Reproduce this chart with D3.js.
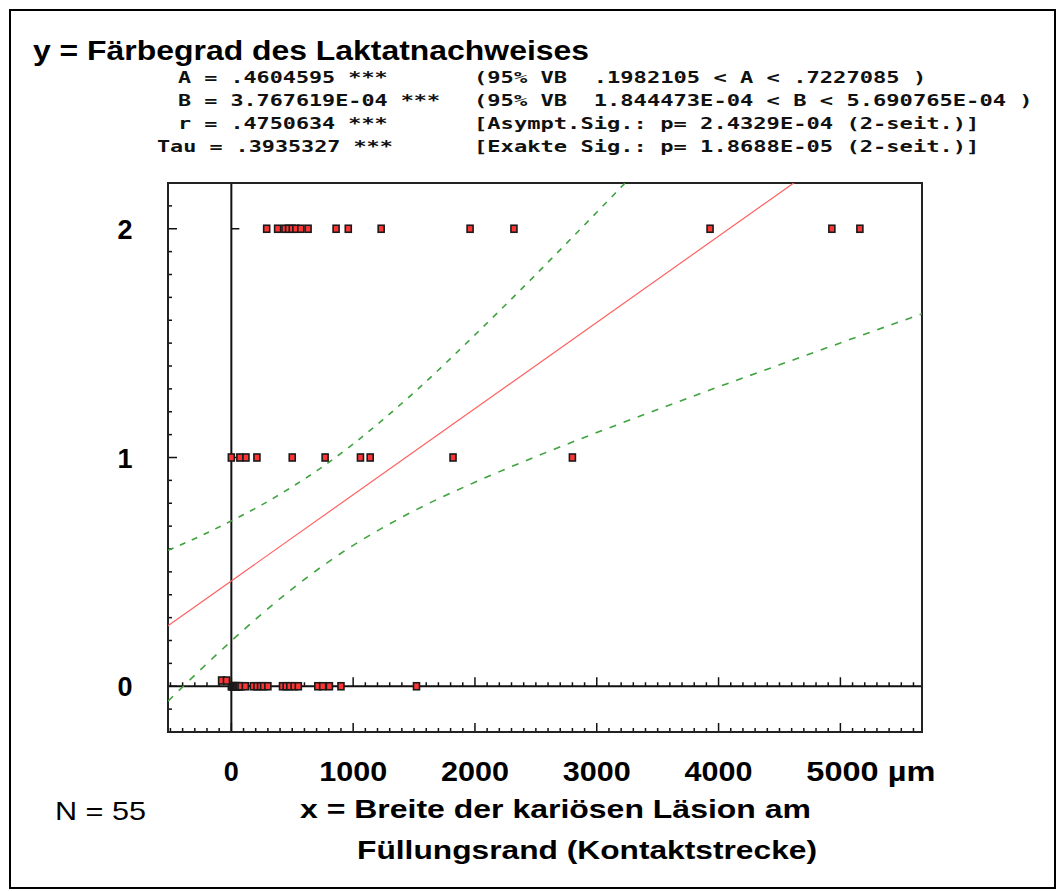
<!DOCTYPE html>
<html><head><meta charset="utf-8">
<script src="https://cdn.jsdelivr.net/npm/d3@7"></script>
<style>html,body{margin:0;padding:0;background:#fff}svg{display:block}</style>
</head><body>
<svg id="c" width="1057" height="891"></svg>
<script>
// ---------- data ----------
const titleText = "y = Färbegrad des Laktatnachweises";
const statsLeft = ["A = .4604595 ***", "B = 3.767619E-04 ***", "r = .4750634 ***", "Tau = .3935327 ***"];
const statsRight = ["(95% VB  .1982105 < A < .7227085 )", "(95% VB  1.844473E-04 < B < 5.690765E-04 )",
                    "[Asympt.Sig.: p= 2.4329E-04 (2-seit.)]", "[Exakte Sig.: p= 1.8688E-05 (2-seit.)]"];
const xTickValues = [0, 1000, 2000, 3000, 4000, 5000];
const xTickLabels = ["0", "1000", "2000", "3000", "4000", "5000 µm"];
const yTickValues = [0, 1, 2];
const yTickLabels = ["0", "1", "2"];
const xLabelLines = ["x = Breite der kariösen Läsion am", "Füllungsrand (Kontaktstrecke)"];
const nLabel = "N = 55";

// observed points by category level
const xAtY2 = [290, 380, 440, 470, 500, 530, 570, 630, 860, 960, 1230, 1960, 2320, 3930, 4930, 5160];
const xAtY1 = [0, 70, 120, 210, 500, 770, 1060, 1140, 1820, 2800];
const xAtY0 = [0, 5, 15, 20, 25, 35, 40, 45, 55, 65, 80, 115, 180, 210, 240, 265, 300,
               420, 450, 480, 515, 550, 710, 750, 805, 900, 1520];
const xNearY0 = [-80, -40];
const yNearY0 = [0.025, 0.025];

// regression coefficients
const coefA = 0.4604595;
const coefB = 3.767619e-4;

// 95% confidence band
const bandUpperX = [-520, -250, 0, 250, 500, 750, 1000, 1250, 1500, 2000, 2500, 3000, 3300];
const bandUpperY = [0.594, 0.658, 0.723, 0.793, 0.872, 0.960, 1.059, 1.168, 1.284, 1.536, 1.800, 2.072, 2.237];
const bandLowerX = [-520, -250, 0, 250, 500, 750, 1000, 1250, 1500, 2000, 2500, 3000, 3500, 4000, 4500, 5000, 5680];
const bandLowerY = [-0.065, 0.074, 0.198, 0.316, 0.426, 0.526, 0.616, 0.695, 0.767, 0.892, 1.004, 1.109, 1.210, 1.309, 1.405, 1.501, 1.630];

// ---------- layout ----------
const svg = d3.select("#c");
const P = {left: 168, right: 922, top: 183, bottom: 732};
const xDomain = [-520, 5670];
const yDomain = [-0.2, 2.2];
const x = d3.scaleLinear().domain(xDomain).range([P.left, P.right]);
const y = d3.scaleLinear().domain(yDomain).range([P.bottom, P.top]);

svg.append("rect").attr("width", 1057).attr("height", 891).attr("fill", "#fff");
// slide frame
svg.append("rect").attr("x", 10).attr("y", 10).attr("width", 1045).attr("height", 878)
   .attr("fill", "none").attr("stroke", "#000").attr("stroke-width", 2);

// title
svg.append("text").attr("x", 33).attr("y", 60).text(titleText)
   .attr("font-family", "Liberation Sans, Arial, sans-serif").attr("font-weight", "bold")
   .attr("font-size", 27).attr("textLength", 556).attr("lengthAdjust", "spacingAndGlyphs");

// stats block
const mono = "DejaVu Sans Mono, Liberation Mono, monospace";
const pitch = 13.3;
const leftX = [178, 178, 178, 157];
statsLeft.forEach((s, i) => {
  svg.append("text").attr("x", leftX[i]).attr("y", 83 + i * 23).text(s)
     .attr("font-family", mono).attr("font-weight", "bold").attr("font-size", 15.5)
     .attr("textLength", s.length * 13.1).attr("lengthAdjust", "spacingAndGlyphs")
     .style("white-space", "pre").attr("fill", "#111");
});
statsRight.forEach((s, i) => {
  svg.append("text").attr("x", 474).attr("y", 83 + i * 23).text(s)
     .attr("font-family", mono).attr("font-weight", "bold").attr("font-size", 15.5)
     .attr("textLength", s.length * pitch).attr("lengthAdjust", "spacingAndGlyphs")
     .style("white-space", "pre").attr("fill", "#111");
});

// clip
svg.append("clipPath").attr("id", "plotclip").append("rect")
   .attr("x", P.left).attr("y", P.top).attr("width", P.right - P.left).attr("height", P.bottom - P.top);

const g = svg.append("g");

// ticks
const minorX = d3.range(-500, 5700, 100);
const minorY = d3.range(-0.2, 2.21, 0.1).map(v => Math.round(v * 10) / 10);
const tickCol = "#111";
g.selectAll(".xb").data(minorX).join("line")
  .attr("x1", d => x(d)).attr("x2", d => x(d))
  .attr("y1", P.bottom).attr("y2", d => P.bottom - (d % 1000 === 0 ? 9 : 4))
  .attr("stroke", tickCol).attr("stroke-width", 1.5);
g.selectAll(".x0").data(minorX).join("line")
  .attr("x1", d => x(d)).attr("x2", d => x(d))
  .attr("y1", y(0)).attr("y2", d => y(0) - (d % 1000 === 0 ? 9 : 4))
  .attr("stroke", tickCol).attr("stroke-width", 1.5);
g.selectAll(".yl").data(minorY).join("line")
  .attr("x1", P.left).attr("x2", d => P.left + (Math.abs(d - Math.round(d)) < 1e-6 ? 9 : 4))
  .attr("y1", d => y(d)).attr("y2", d => y(d))
  .attr("stroke", tickCol).attr("stroke-width", 1.5);
g.selectAll(".y0").data(yTickValues.filter(v => v !== 0)).join("line")
  .attr("x1", x(0)).attr("x2", x(0) + 8)
  .attr("y1", d => y(d)).attr("y2", d => y(d))
  .attr("stroke", tickCol).attr("stroke-width", 1.5);

// zero lines
g.append("line").attr("x1", P.left).attr("x2", P.right).attr("y1", y(0)).attr("y2", y(0))
  .attr("stroke", "#111").attr("stroke-width", 2);
g.append("line").attr("x1", x(0)).attr("x2", x(0)).attr("y1", P.top).attr("y2", P.bottom)
  .attr("stroke", "#111").attr("stroke-width", 2);

// frame
g.append("rect").attr("x", P.left).attr("y", P.top).attr("width", P.right - P.left)
  .attr("height", P.bottom - P.top).attr("fill", "none").attr("stroke", "#222").attr("stroke-width", 2);

// lines
const lines = svg.append("g").attr("clip-path", "url(#plotclip)");
lines.append("line")
  .attr("x1", x(xDomain[0])).attr("y1", y(coefA + coefB * xDomain[0]))
  .attr("x2", x(xDomain[1])).attr("y2", y(coefA + coefB * xDomain[1]))
  .attr("stroke", "#ff6262").attr("stroke-width", 1.2);
const lineGen = d3.line().x(d => x(d[0])).y(d => y(d[1])).curve(d3.curveMonotoneX);
lines.append("path").attr("d", lineGen(d3.zip(bandUpperX, bandUpperY)))
  .attr("fill", "none").attr("stroke", "#3fa33f").attr("stroke-width", 1.6).attr("stroke-dasharray", "6,7");
lines.append("path").attr("d", lineGen(d3.zip(bandLowerX, bandLowerY)))
  .attr("fill", "none").attr("stroke", "#3fa33f").attr("stroke-width", 1.6).attr("stroke-dasharray", "7,8");

// points
const pts = [];
xAtY2.forEach(v => pts.push([v, 2]));
xAtY1.forEach(v => pts.push([v, 1]));
xAtY0.forEach(v => pts.push([v, 0]));
xNearY0.forEach((v, i) => pts.push([v, yNearY0[i]]));
svg.append("g").selectAll("rect").data(pts).join("rect")
  .attr("x", d => x(d[0]) - 3).attr("y", d => y(d[1]) - 3.5)
  .attr("width", 6).attr("height", 7)
  .attr("fill", "#ff3535").attr("stroke", "#1a1a1a").attr("stroke-width", 1.6);

// tick labels
const bold = "Liberation Sans, Arial, sans-serif";
xTickValues.forEach((v, i) => {
  const last = i === xTickValues.length - 1;
  const t = svg.append("text").attr("x", last ? x(v) - 34 : x(v)).attr("y", 781)
    .attr("text-anchor", last ? "start" : "middle").text(xTickLabels[i])
    .attr("font-family", bold).attr("font-weight", "bold").attr("font-size", 27)
    .attr("lengthAdjust", "spacingAndGlyphs");
  if (last) t.attr("textLength", 129);
  else if (v !== 0) t.attr("textLength", 68);
});
yTickValues.forEach((v, i) => {
  svg.append("text").attr("x", 125).attr("y", y(v) + 10).attr("text-anchor", "middle")
    .text(yTickLabels[i]).attr("font-family", bold).attr("font-weight", "bold").attr("font-size", 27);
});

// axis title & N
svg.append("text").attr("x", 300).attr("y", 818).text(xLabelLines[0])
  .attr("font-family", bold).attr("font-weight", "bold").attr("font-size", 26)
  .attr("textLength", 511).attr("lengthAdjust", "spacingAndGlyphs");
svg.append("text").attr("x", 357).attr("y", 859).text(xLabelLines[1])
  .attr("font-family", bold).attr("font-weight", "bold").attr("font-size", 26)
  .attr("textLength", 460).attr("lengthAdjust", "spacingAndGlyphs");
svg.append("text").attr("x", 55).attr("y", 820).text(nLabel)
  .attr("font-family", bold).attr("font-size", 26)
  .attr("textLength", 91).attr("lengthAdjust", "spacingAndGlyphs");
</script>
</body></html>
